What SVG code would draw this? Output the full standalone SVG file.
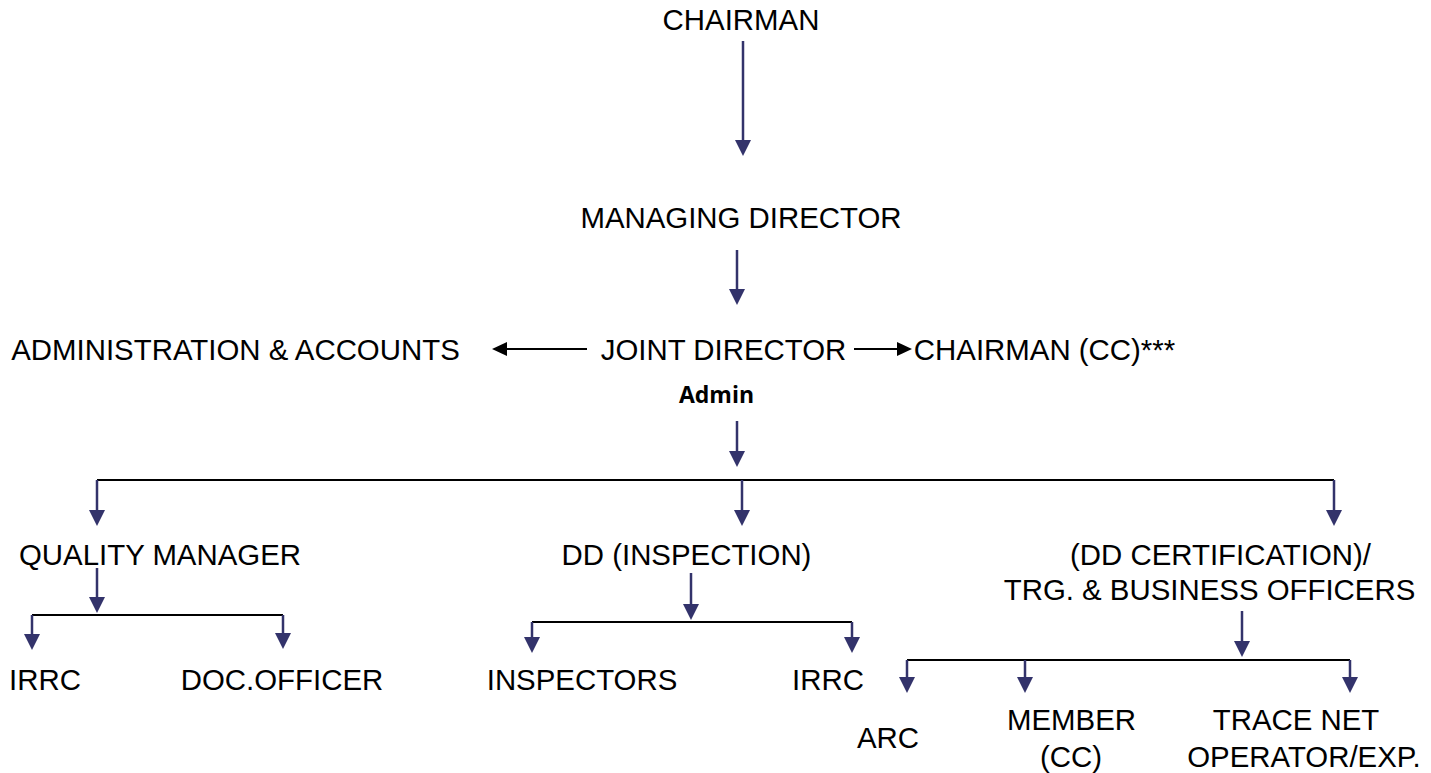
<svg xmlns="http://www.w3.org/2000/svg" width="1431" height="773" viewBox="0 0 1431 773">
<style>
text{font-family:"Liberation Sans",Arial,sans-serif;font-size:29.4px;fill:#000;text-anchor:middle}
.b{font-family:"Open Sans","Liberation Sans",sans-serif;font-weight:bold;font-size:23px}
.n{stroke:#33336b;stroke-width:2.5;fill:none}
.k{stroke:#000;stroke-width:2;fill:none}
</style>
<defs>
<marker id="an" viewBox="0 0 16 16" refX="8" refY="8" markerWidth="16" markerHeight="16" markerUnits="userSpaceOnUse" orient="auto"><path d="M0,0 L16,8 L0,16 Z" fill="#33336b"/></marker>
<marker id="ak" viewBox="0 0 15 14" refX="7" refY="7" markerWidth="15" markerHeight="14" markerUnits="userSpaceOnUse" orient="auto"><path d="M0,0 L15,7 L0,14 Z" fill="#000"/></marker>
</defs>
<g id="connectors">
<line class="n" x1="743" y1="41" x2="743" y2="148" marker-end="url(#an)"/>
<line class="n" x1="737" y1="250" x2="737" y2="297" marker-end="url(#an)"/>
<line class="k" x1="587" y1="349" x2="500" y2="349" marker-end="url(#ak)"/>
<line class="k" x1="854" y1="349" x2="904" y2="349" marker-end="url(#ak)"/>
<line class="n" x1="737" y1="421" x2="737" y2="459" marker-end="url(#an)"/>
<line class="k" x1="97" y1="480" x2="1334" y2="480"/>
<line class="n" x1="97" y1="480" x2="97" y2="518" marker-end="url(#an)"/>
<line class="n" x1="742" y1="480" x2="742" y2="518" marker-end="url(#an)"/>
<line class="n" x1="1334" y1="480" x2="1334" y2="518" marker-end="url(#an)"/>
<line class="n" x1="97" y1="568" x2="97" y2="605" marker-end="url(#an)"/>
<line class="k" x1="32" y1="615" x2="283" y2="615"/>
<line class="n" x1="32" y1="615" x2="32" y2="642" marker-end="url(#an)"/>
<line class="n" x1="283" y1="615" x2="283" y2="641" marker-end="url(#an)"/>
<line class="n" x1="691" y1="573" x2="691" y2="612" marker-end="url(#an)"/>
<line class="k" x1="532" y1="622" x2="852" y2="622"/>
<line class="n" x1="532" y1="622" x2="532" y2="645" marker-end="url(#an)"/>
<line class="n" x1="852" y1="622" x2="852" y2="645" marker-end="url(#an)"/>
<line class="n" x1="1242" y1="611" x2="1242" y2="649" marker-end="url(#an)"/>
<line class="k" x1="907" y1="660" x2="1350" y2="660"/>
<line class="n" x1="907" y1="660" x2="907" y2="685" marker-end="url(#an)"/>
<line class="n" x1="1025" y1="660" x2="1025" y2="685" marker-end="url(#an)"/>
<line class="n" x1="1350" y1="660" x2="1350" y2="685" marker-end="url(#an)"/>
</g>
<g id="chairman"><text x="741" y="30">CHAIRMAN</text></g>
<g id="md"><text x="741" y="228">MANAGING DIRECTOR</text></g>
<g id="admin-accounts"><text x="235.5" y="360">ADMINISTRATION &amp; ACCOUNTS</text></g>
<g id="jd"><text x="723.5" y="360">JOINT DIRECTOR</text><text class="b" x="716.5" y="403">Admin</text></g>
<g id="chairman-cc"><text x="1044.5" y="360">CHAIRMAN (CC)***</text></g>
<g id="qm"><text x="160" y="565">QUALITY MANAGER</text></g>
<g id="ddi"><text x="686.5" y="565">DD (INSPECTION)</text></g>
<g id="ddc"><text x="1220.5" y="565">(DD CERTIFICATION)/</text><text x="1209.5" y="600">TRG. &amp; BUSINESS OFFICERS</text></g>
<g id="irrc1"><text x="45" y="690">IRRC</text></g>
<g id="doc"><text x="282" y="690">DOC.OFFICER</text></g>
<g id="inspectors"><text x="582" y="690">INSPECTORS</text></g>
<g id="irrc2"><text x="828" y="690">IRRC</text></g>
<g id="arc"><text x="888" y="748">ARC</text></g>
<g id="member"><text x="1071.5" y="730">MEMBER</text><text x="1071" y="767">(CC)</text></g>
<g id="trace"><text x="1296" y="730">TRACE NET</text><text x="1304" y="767">OPERATOR/EXP.</text></g>
</svg>
